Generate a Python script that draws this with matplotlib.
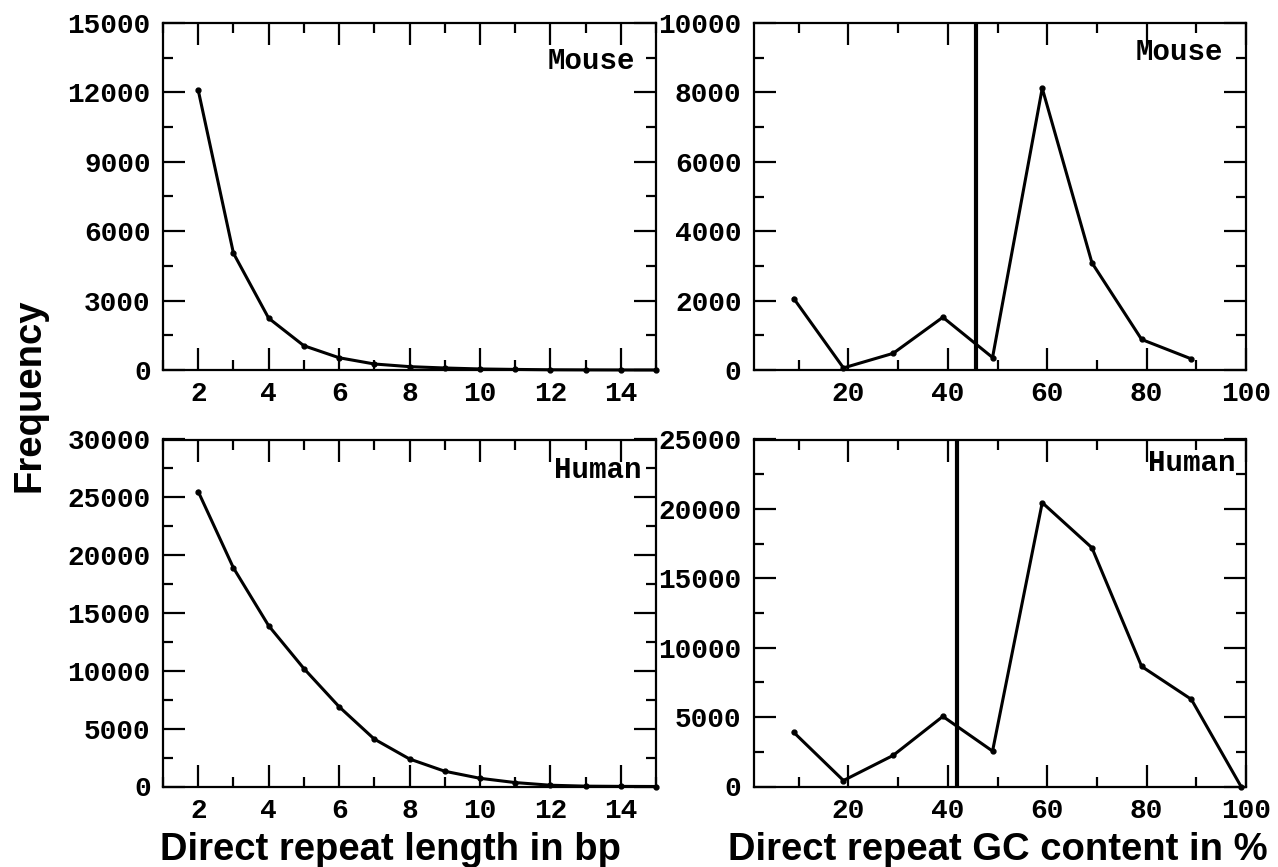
import matplotlib
matplotlib.use('Agg')
import matplotlib.pyplot as plt
from matplotlib.ticker import MultipleLocator

# repeat length (bp) vs frequency
length_bp = [2, 3, 4, 5, 6, 7, 8, 9, 10, 11, 12, 13, 14, 15]
mouse_length = [12100, 5050, 2240, 1050, 530, 260, 145, 87, 45, 25, 10, 5, 2, 1]
human_length = [25500, 18900, 13900, 10200, 6900, 4100, 2380, 1320, 710, 340, 110, 30, 10, 0]

# GC content (%) vs frequency
mouse_gc_pct = [9, 19, 29, 39, 49, 59, 69, 79, 89]
mouse_gc = [2060, 60, 480, 1520, 360, 8120, 3090, 880, 320]
human_gc_pct = [9, 19, 29, 39, 49, 59, 69, 79, 89, 99]
human_gc = [3900, 430, 2240, 5050, 2550, 20450, 17200, 8650, 6280, 0]

# genome average GC lines
mouse_gc_mean = 45.6
human_gc_mean = 41.8

mono = 'Liberation Mono'
sans = 'Liberation Sans'

W, H = 1278, 867
fig = plt.figure(figsize=(W / 100, H / 100), dpi=100)


def px_axes(x0, x1, y0, y1):
    # pixel box -> figure fraction
    return fig.add_axes([x0 / W, (H - y1) / H, (x1 - x0) / W, (y1 - y0) / H])


def style(ax, xmaj, xmin, ymaj, ymin):
    ax.xaxis.set_major_locator(MultipleLocator(xmaj))
    ax.xaxis.set_minor_locator(MultipleLocator(xmin))
    ax.yaxis.set_major_locator(MultipleLocator(ymaj))
    ax.yaxis.set_minor_locator(MultipleLocator(ymin))
    ax.tick_params(which='both', direction='in', top=True, right=True, width=1.6)
    ax.tick_params(which='major', length=15.5)
    ax.tick_params(which='minor', length=7.5)
    ax.tick_params(axis='y', which='major', pad=9)
    ax.tick_params(axis='x', which='major', pad=8)
    for s in ax.spines.values():
        s.set_linewidth(1.6)
    for lab in ax.get_xticklabels() + ax.get_yticklabels():
        lab.set_fontfamily(mono)
        lab.set_fontweight('bold')
        lab.set_fontsize(20)


def draw(ax, x, y):
    ax.plot(x, y, color='black', lw=2.2, marker='o', ms=3.5, clip_on=False, zorder=3)


ax1 = px_axes(163, 656, 23, 370)
draw(ax1, length_bp, mouse_length)
ax1.set_xlim(1, 15)
ax1.set_ylim(0, 15000)
style(ax1, 2, 1, 3000, 1500)
ax1.text(0.957, 0.89, 'Mouse', transform=ax1.transAxes, ha='right', va='center',
         family=mono, weight='bold', fontsize=21)

ax2 = px_axes(754, 1246, 23, 370)
draw(ax2, mouse_gc_pct, mouse_gc)
ax2.axvline(mouse_gc_mean, color='black', lw=3)
ax2.set_xlim(1, 100)
ax2.set_ylim(0, 10000)
style(ax2, 20, 10, 2000, 1000)
ax2.text(0.953, 0.916, 'Mouse', transform=ax2.transAxes, ha='right', va='center',
         family=mono, weight='bold', fontsize=21)

ax3 = px_axes(163, 656, 439.5, 786.5)
draw(ax3, length_bp, human_length)
ax3.set_xlim(1, 15)
ax3.set_ylim(0, 30000)
style(ax3, 2, 1, 5000, 2500)
ax3.text(0.971, 0.912, 'Human', transform=ax3.transAxes, ha='right', va='center',
         family=mono, weight='bold', fontsize=21)

ax4 = px_axes(754, 1246, 439.5, 786.5)
draw(ax4, human_gc_pct, human_gc)
ax4.axvline(human_gc_mean, color='black', lw=3)
ax4.set_xlim(1, 100)
ax4.set_ylim(0, 25000)
style(ax4, 20, 10, 5000, 2500)
ax4.text(0.978, 0.932, 'Human', transform=ax4.transAxes, ha='right', va='center',
         family=mono, weight='bold', fontsize=21)

fig.text(391 / W, 1 - 860 / H, 'Direct repeat length in bp', ha='center', va='baseline',
         family=sans, weight='bold', fontsize=27.5)
fig.text(998 / W, 1 - 860 / H, 'Direct repeat GC content in %', ha='center', va='baseline',
         family=sans, weight='bold', fontsize=27.5)
fig.text(30 / W, 1 - 395 / H, 'Frequency', rotation=90, ha='center', va='center',
         family=sans, weight='bold', fontsize=27.5)

fig.savefig('out.png', dpi=100)
